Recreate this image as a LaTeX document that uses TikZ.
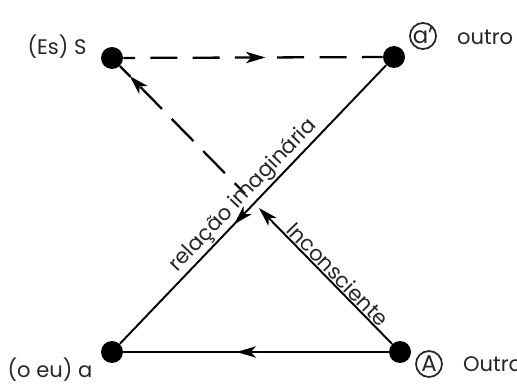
\documentclass[tikz,border=0pt]{standalone}
\usepackage{fontspec}
\setmainfont{Poppins}
\usetikzlibrary{arrows.meta,decorations.markings}
\tikzset{harr/.tip={Stealth[length=11pt,width=6.5pt,inset=3pt]}}
\begin{document}
\begin{tikzpicture}[x=0.02cm,y=-0.02cm,
  dot/.style={circle,fill=black,inner sep=0pt,minimum size=0.44cm},
  lbl/.style={font=\fontsize{12}{14}\selectfont, text=black!85, inner sep=1pt},
  ring/.style={circle,draw=black!85,line width=1pt,inner sep=0pt,minimum size=0.52cm,font=\fontsize{13}{15}\selectfont,text=black!85},
  conn/.style={line width=1.1pt},
  dshA/.style={line width=1.3pt, dash pattern=on 0.54cm off 0.306cm, dash phase=0.306cm},
  dshB/.style={line width=1.3pt, dash pattern=on 0.62cm off 0.28cm, dash phase=0.32cm},
  midarrow/.style={postaction={decorate},decoration={markings,mark=at position #1 with {\arrow{harr}}}},
  backarrow/.style={postaction={decorate},decoration={markings,mark=at position #1 with {\arrowreversed{harr}}}},
]
\useasboundingbox (0,0) rectangle (517,385);
\clip (0,0) rectangle (517,385);
% points
\node[dot] (S) at (112,58) {};
\node[dot] (O) at (394,57) {};
\node[dot] (a) at (112,352) {};
\node[dot] (A) at (400,352) {};
\coordinate (T) at (258.9,208);
\coordinate (D) at (245,193.7);
% connectors
\draw[dshA, midarrow=2.84cm] (S) -- (O);
\draw[conn, midarrow=4.4cm] (O) -- (a);
\draw[conn, midarrow=3.04cm] (A) -- (a);
\draw[conn, -harr] (A) -- (T);
\draw[dshB, backarrow=0.28cm] (S) -- (D);
% labels
\node[lbl] (tS) at (57,47) {(Es) S};
\node[ring] (rO) at (423,36) {a’};
\node[lbl, anchor=west] (tO) at (455,37) {outro};
\node[lbl] (ta) at (50,370) {(o eu) a};
\node[ring] (rA) at (429,364) {A};
\node[lbl, anchor=west] (tA) at (461,364) {Outro};
\path (a) -- node[lbl, sloped, above, pos=0.5] (li) {relação imaginária} (O);
\path (S) -- node[lbl, sloped, above, pos=0.775] (lc) {Inconsciente} (A);
\end{tikzpicture}
\end{document}
